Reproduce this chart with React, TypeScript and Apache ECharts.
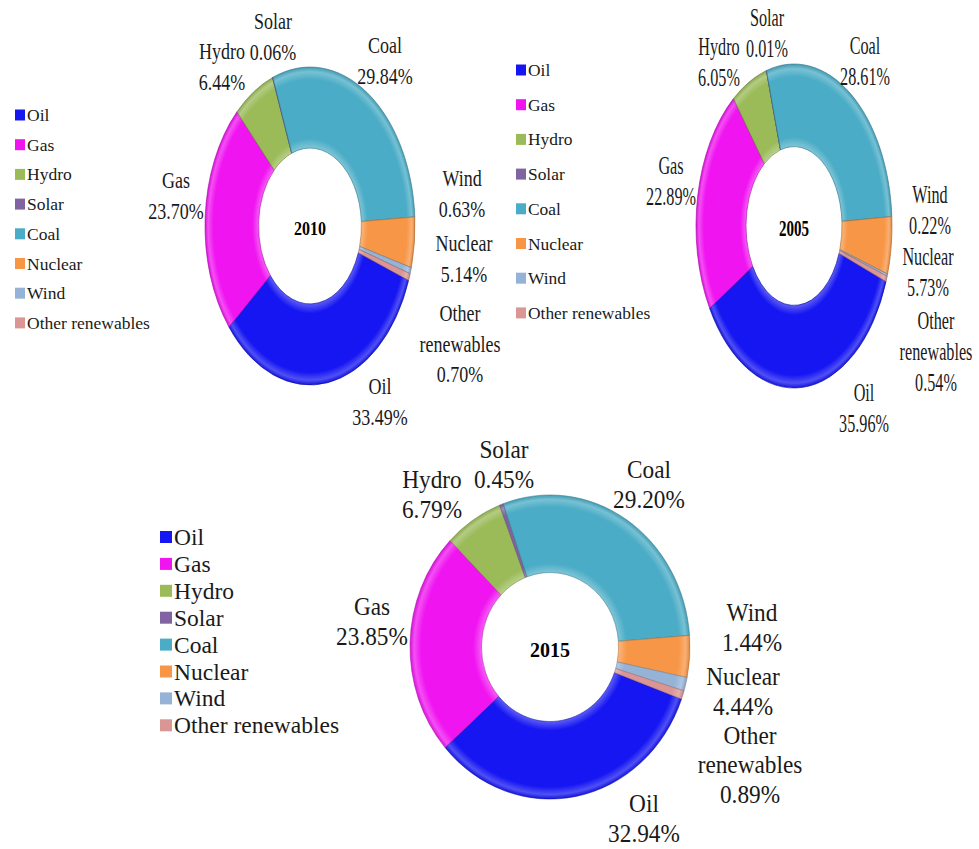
import React, { useEffect, useRef } from 'react';
import * as echarts from 'echarts';

// ---------- data ----------
const categories = ['Oil', 'Gas', 'Hydro', 'Solar', 'Coal', 'Nuclear', 'Wind', 'Other renewables'];
const labelNames = ['Oil', 'Gas', 'Hydro', 'Solar', 'Coal', 'Nuclear', 'Wind', 'Other\nrenewables'];
const years = ['2010', '2005', '2015'];
const share2010 = [33.49, 23.7, 6.44, 0.06, 29.84, 5.14, 0.63, 0.7];
const share2005 = [35.96, 22.89, 6.05, 0.01, 28.61, 5.73, 0.22, 0.54];
const share2015 = [32.94, 23.85, 6.79, 0.45, 29.2, 4.44, 1.44, 0.89];
const sharesByYear = [share2010, share2005, share2015];

// ---------- styles / layout ----------
const colors = ['#1616F2', '#F014F0', '#9BBB59', '#8064A2', '#4AACC6', '#F79646', '#95B3D7', '#D99694'];
const FONT = 'Liberation Serif, serif';
const START_DEG = 20; // screen angle (clockwise from east) where the first slice starts
const HOLE = 0.49;

const donuts = [
  {
    cx: 310, cy: 226, rx: 105, ry: 159, fontSize: 18, textScaleY: 1.23, lineHeight: 25, titleSize: 16, titleY: 228,
    labels: [[70, 176], [-134, -30], [-88, -159], [-37, -189], [75, -165], [154, 33], [152, -32], [150, 118]],
  },
  {
    cx: 794, cy: 226, rx: 98, ry: 162, fontSize: 16.2, textScaleY: 1.5, lineHeight: 20.5, titleSize: 15, titleY: 228,
    labels: [[70, 182], [-123, -45], [-75, -164], [-27, -193], [71, -165], [134, 46], [136, -16], [142, 126]],
  },
  {
    cx: 550, cy: 647, rx: 140, ry: 152, fontSize: 23.3, textScaleY: 1.06, lineHeight: 28, titleSize: 20, titleY: 650,
    labels: [[94, 172], [-178, -25], [-118, -152], [-46, -182], [99, -162], [193, 45], [202, -19], [200, 118]],
  },
];

const legends = [
  { left: 10, top: 100, itemWidth: 10, itemHeight: 11, itemGap: 9.7, fontSize: 17.5, lineHeight: 20 },
  { left: 511, top: 55, itemWidth: 10, itemHeight: 11, itemGap: 14.7, fontSize: 17.4, lineHeight: 20 },
  { left: 155, top: 520, itemWidth: 12, itemHeight: 12, itemGap: 2.9, fontSize: 23.5, lineHeight: 24 },
];

function mix(hex: string, target: number, amt: number): string {
  const n = parseInt(hex.slice(1), 16);
  const ch = [(n >> 16) & 255, (n >> 8) & 255, n & 255].map((c) => Math.round(c + (target - c) * amt));
  return `rgb(${ch[0]},${ch[1]},${ch[2]})`;
}

// cumulative start of each slice per year
const cumStarts = sharesByYear.map((arr) => {
  let acc = 0;
  return arr.map((v) => {
    const s = acc;
    acc += v;
    return s;
  });
});

export default function App() {
  const ref = useRef<HTMLDivElement>(null);
  useEffect(() => {
    if (!ref.current) return;
    const chart = echarts.init(ref.current, null, { renderer: 'svg' });

    const series = categories.map((name, ci) => ({
      type: 'custom',
      name,
      coordinateSystem: 'none',
      silent: true,
      itemStyle: { color: colors[ci] },
      data: sharesByYear.map((arr) => arr[ci]),
      renderItem: (params: any, api: any) => {
        const yi = params.dataIndex;
        const d = donuts[yi];
        const v = api.value(0) as number;
        const start = cumStarts[yi][ci];
        const a0 = ((START_DEG + start * 3.6) * Math.PI) / 180;
        const a1 = ((START_DEG + (start + v) * 3.6) * Math.PI) / 180;
        const c = colors[ci];
        const grad = new echarts.graphic.RadialGradient(
          0, 0, d.rx,
          [
            { offset: HOLE, color: mix(c, 255, 0.3) },
            { offset: HOLE + 0.06, color: c },
            { offset: 0.92, color: c },
            { offset: 0.97, color: mix(c, 255, 0.25) },
            { offset: 1, color: mix(c, 0, 0.1) },
          ],
          true
        );
        const lbl = d.labels[ci];
        return {
          type: 'group',
          children: [
            {
              type: 'sector',
              x: d.cx,
              y: d.cy,
              scaleY: d.ry / d.rx,
              shape: { cx: 0, cy: 0, r: d.rx, r0: d.rx * HOLE, startAngle: a0, endAngle: a1, clockwise: true },
              style: { fill: grad, stroke: mix(c, 0, 0.3), lineWidth: 0.5, strokeNoScale: true },
            },
            {
              type: 'text',
              x: d.cx + lbl[0],
              y: d.cy + lbl[1],
              scaleY: d.textScaleY,
              style: {
                text: `${labelNames[ci]}\n${v.toFixed(2)}%`,
                fill: '#1a1a1a',
                fontSize: d.fontSize,
                fontFamily: FONT,
                lineHeight: d.lineHeight,
                align: 'center',
                verticalAlign: 'middle',
                textAlign: 'center',
                textVerticalAlign: 'middle',
              },
            },
          ],
        };
      },
    }));

    chart.setOption({
      animation: false,
      backgroundColor: '#ffffff',
      color: colors,
      textStyle: { fontFamily: FONT },
      legend: legends.map((l) => ({
        orient: 'vertical',
        left: l.left,
        top: l.top,
        itemWidth: l.itemWidth,
        itemHeight: l.itemHeight,
        itemGap: l.itemGap,
        icon: 'rect',
        selectedMode: false,
        data: categories,
        textStyle: { fontFamily: FONT, fontSize: l.fontSize, lineHeight: l.lineHeight, color: '#1a1a1a', padding: [0, 0, 0, -3] },
      })),
      graphic: donuts.map((d, i) => ({
        type: 'text',
        x: d.cx,
        y: d.titleY,
        scaleY: d.textScaleY,
        silent: true,
        style: {
          text: years[i],
          fontWeight: 'bold',
          fontSize: d.titleSize,
          fontFamily: FONT,
          fill: '#000',
          align: 'center',
          verticalAlign: 'middle',
          textAlign: 'center',
          textVerticalAlign: 'middle',
        },
      })),
      series,
    });
    return () => chart.dispose();
  }, []);
  return (
    <div
      ref={ref}
      style={{ position: 'fixed', left: 0, top: 0, width: 979, height: 849, background: '#fff' }}
    />
  );
}
